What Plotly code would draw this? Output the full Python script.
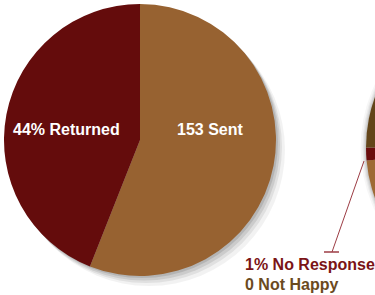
import plotly.graph_objects as go

# ---- data ----
main_labels = ["Sent", "Returned"]
main_values = [56, 44]
main_colors = ["#976231", "#640C0C"]
sent_count = 153
returned_pct = 44

side_labels = ["Happy", "No Response", "Very Happy"]
side_values = [73.6, 1.4, 25]
side_colors = ["#9E6A35", "#6A0D0D", "#634519"]
no_response_pct = 1
not_happy_count = 0

# ---- layout helpers (figure is wider than the window; right part is cropped) ----
W, H = 680, 295

def px(x):
    return x / W

def py(y):
    return 1 - y / H

def dom(x0, x1, y0, y1):
    return dict(x=[max(0, px(x0)), min(1, px(x1))], y=[max(0, py(y1)), min(1, py(y0))])

fig = go.Figure()

# soft shadows under the pies
for i, (dx, dy, a) in enumerate([(9, 10, 0.05), (6, 7, 0.07), (4, 4.5, 0.09), (2, 2, 0.11)]):
    fig.add_trace(go.Pie(values=[1], labels=["s%d" % i], domain=dom(4 + dx, 276 + dx, 4 + dy, 276 + dy),
                         marker=dict(colors=["rgba(0,0,0,%g)" % a], line=dict(width=0)),
                         textinfo="none", hoverinfo="skip", sort=False, showlegend=False))
    fig.add_trace(go.Pie(values=[1], labels=["t%d" % i], domain=dom(366 - dx * 0.6, 661 - dx * 0.6, 0, 295),
                         marker=dict(colors=["rgba(0,0,0,%g)" % (a * 0.7)], line=dict(width=0)),
                         textinfo="none", hoverinfo="skip", sort=False, showlegend=False))

fig.add_trace(go.Pie(values=main_values, labels=main_labels, sort=False, direction="clockwise",
                     rotation=0, domain=dom(4, 276, 4, 276),
                     marker=dict(colors=main_colors, line=dict(width=0)),
                     textinfo="none", hoverinfo="skip", showlegend=False))

fig.add_trace(go.Pie(values=side_values, labels=side_labels, sort=False, direction="clockwise",
                     rotation=0, domain=dom(366, 661, 0, 295),
                     marker=dict(colors=side_colors, line=dict(width=0)),
                     textinfo="none", hoverinfo="skip", showlegend=False))

font_b = "Liberation Sans, Arial, Helvetica, sans-serif"
ann = [
    dict(x=px(66), y=py(129), text="<b>%d%% %s</b>" % (returned_pct, main_labels[1]),
         font=dict(family=font_b, size=16, color="white"), xanchor="center", yanchor="middle"),
    dict(x=px(210), y=py(129), text="<b>%d %s</b>" % (sent_count, main_labels[0]),
         font=dict(family=font_b, size=16, color="white"), xanchor="center", yanchor="middle"),
    dict(x=px(243), y=py(264), text="<b>%d%% %s</b>" % (no_response_pct, side_labels[1]),
         font=dict(family=font_b, size=16, color="#7B1416"), xanchor="left", yanchor="middle"),
    dict(x=px(243), y=py(284), text="<b>%d Not Happy</b>" % not_happy_count,
         font=dict(family=font_b, size=16, color="#6B4A1E"), xanchor="left", yanchor="middle"),
]
for a in ann:
    a.update(xref="paper", yref="paper", showarrow=False)

shapes = [
    dict(type="line", xref="paper", yref="paper", x0=px(364), y0=py(161), x1=px(332), y1=py(252),
         line=dict(color="#9C3C44", width=1)),
    dict(type="line", xref="paper", yref="paper", x0=px(324), y0=py(252), x1=px(339), y1=py(252),
         line=dict(color="#9C3C44", width=1.5)),
]

fig.update_layout(width=W, height=H, margin=dict(l=0, r=0, t=0, b=0),
                  paper_bgcolor="white", plot_bgcolor="white",
                  annotations=ann, shapes=shapes, showlegend=False)

post = ("document.body.style.margin='0';document.body.style.overflow='hidden';"
        "document.documentElement.style.overflow='hidden';")
fig.write_html("out.html", config={"displayModeBar": False, "staticPlot": True}, post_script=post)
